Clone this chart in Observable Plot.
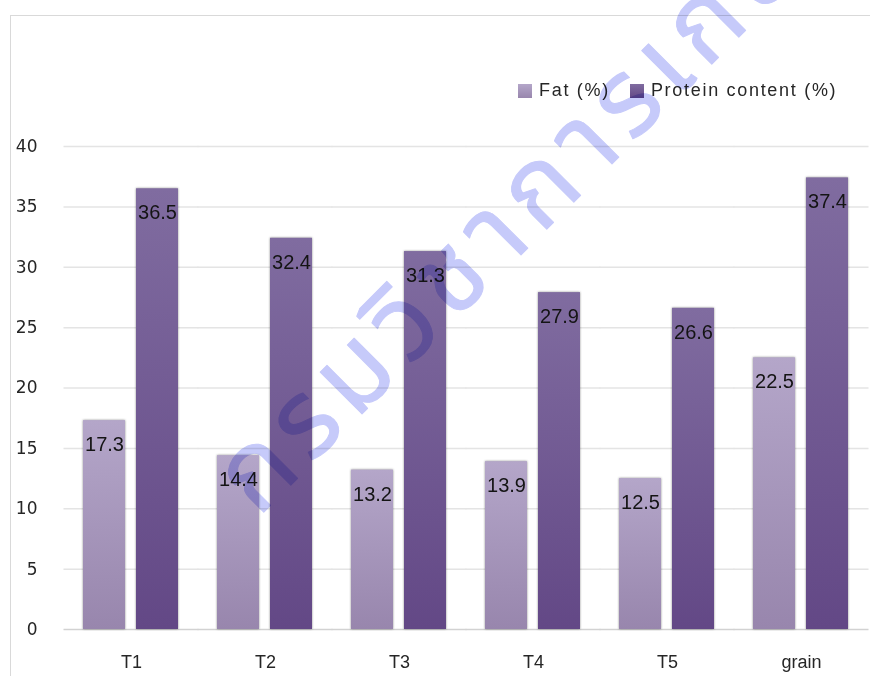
<!DOCTYPE html>
<html>
<head>
<meta charset="utf-8">
<script src="https://cdn.jsdelivr.net/npm/d3@7"></script>
<script src="https://cdn.jsdelivr.net/npm/@observablehq/plot@0.6"></script>
<style>
  html, body { margin: 0; padding: 0; background: #fff; }
  #wrap { position: relative; width: 870px; height: 676px; overflow: hidden;
          font-family: "Liberation Sans", Arial, sans-serif; }
  #frame { position: absolute; left: 10px; top: 15px; width: 900px; height: 720px;
           border: 1px solid #d9d9d9; box-sizing: border-box; }
  #chart { position: absolute; left: 0; top: 0; }
  #chart svg { font-family: "Liberation Sans", Arial, sans-serif; }
  #chart g[aria-label="y-axis tick label"] { font-family: "DejaVu Sans", sans-serif; }
  #chart g[aria-label="bar"] rect { filter: drop-shadow(0 0 1.2px rgba(0,0,0,0.45)); }
  #legend { position: absolute; left: 518px; top: 80px; display: flex; align-items: center;
            font-size: 18px; letter-spacing: 1.7px; color: #262626; white-space: nowrap; }
  #legend .item { display: flex; align-items: center; margin-right: 20px; }
  #legend .key { display: inline-block; width: 14px; height: 14px; margin-right: 7px; }
  #stamp { position: absolute; left: 0; top: 0; mix-blend-mode: multiply; pointer-events: none; }
</style>
</head>
<body>
<div id="wrap">
  <div id="frame"></div>
  <div id="chart"></div>
  <div id="legend"></div>
  <svg id="stamp" width="870" height="676"></svg>
</div>
<script>
// Samples and measured values
const groups = ["T1", "T2", "T3", "T4", "T5", "grain"];
const series = ["Fat (%)", "Protein content (%)"];
const fat = [17.3, 14.4, 13.2, 13.9, 12.5, 22.5];
const protein = [36.5, 32.4, 31.3, 27.9, 26.6, 37.4];
const yTicks = [0, 5, 10, 15, 20, 25, 30, 35, 40];
const stampText = "กรมวิชาการเกษตร";

// Vertical gradients for each series (top colour, bottom colour)
const fills = {
  [series[0]]: {id: "fatFill", top: "#b4a6c9", bottom: "#9886ad"},
  [series[1]]: {id: "proteinFill", top: "#806ca0", bottom: "#634886"}
};

const rows = groups.flatMap((g, i) => [
  {group: g, series: series[0], value: fat[i]},
  {group: g, series: series[1], value: protein[i]}
]);

// Half of the gap between groups, so grid rules join across facets
const gapHalf = -19.5;

const chart = Plot.plot({
  width: 870,
  height: 676,
  marginLeft: 62,
  marginRight: 0,
  marginTop: 146,
  marginBottom: 47,
  fx: {domain: groups, paddingInner: 0.285, paddingOuter: 0.1425, label: null},
  x: {domain: series, paddingInner: 0.2, paddingOuter: 0, axis: null},
  y: {domain: [0, 40]},
  marks: [
    Plot.ruleY(yTicks.filter((t) => t > 0), {stroke: "#e4e4e4", strokeWidth: 1.5, insetLeft: gapHalf, insetRight: gapHalf}),
    Plot.ruleY([0], {stroke: "#d2d2d2", strokeWidth: 1.5, insetLeft: gapHalf, insetRight: gapHalf}),
    ...series.map((s) =>
      Plot.barY(rows.filter((d) => d.series === s), {
        fx: "group", x: "series", y: "value", fill: `url(#${fills[s].id})`
      })
    ),
    Plot.text(rows, {
      fx: "group", x: "series", y: "value",
      text: (d) => d.value.toFixed(1),
      dy: 24, fontSize: 20, fill: "#141414"
    }),
    // the y axis sits on the first group's facet, so the padding reaches back to the page margin
    Plot.axisY({ticks: yTicks, tickSize: 0, tickPadding: 46, fontSize: 17, label: null, fill: "#262626"}),
    Plot.axisFx({anchor: "bottom", tickSize: 0, tickPadding: 26, fontSize: 18, label: null, fill: "#262626"})
  ]
});

// Gradient definitions referenced by the bar fills
const ns = "http://www.w3.org/2000/svg";
const defs = document.createElementNS(ns, "defs");
for (const s of series) {
  const f = fills[s];
  const grad = document.createElementNS(ns, "linearGradient");
  grad.setAttribute("id", f.id);
  grad.setAttribute("x1", "0"); grad.setAttribute("y1", "0");
  grad.setAttribute("x2", "0"); grad.setAttribute("y2", "1");
  [[0, f.top], [1, f.bottom]].forEach(([o, c]) => {
    const stop = document.createElementNS(ns, "stop");
    stop.setAttribute("offset", o);
    stop.setAttribute("stop-color", c);
    grad.appendChild(stop);
  });
  defs.appendChild(grad);
}
chart.insertBefore(defs, chart.firstChild);
document.getElementById("chart").appendChild(chart);

// Legend
const legend = document.getElementById("legend");
for (const s of series) {
  const item = document.createElement("span");
  item.className = "item";
  const key = document.createElement("span");
  key.className = "key";
  key.style.background = `linear-gradient(${fills[s].top}, ${fills[s].bottom})`;
  item.appendChild(key);
  item.appendChild(document.createTextNode(s));
  legend.appendChild(item);
}

// Diagonal stamp across the plot
const stamp = document.getElementById("stamp");
const t = document.createElementNS(ns, "text");
t.setAttribute("x", 258);
t.setAttribute("y", 518);
t.setAttribute("transform", "rotate(-45 258 518)");
t.setAttribute("font-size", 108);
t.setAttribute("letter-spacing", 10);
t.setAttribute("font-family", "'Noto Sans Thai', 'Noto Sans', sans-serif");
t.setAttribute("fill", "#c6cafa");
t.setAttribute("stroke", "#c6cafa");
t.setAttribute("stroke-width", 1);
t.setAttribute("stroke-linejoin", "round");
t.textContent = stampText;
stamp.appendChild(t);
</script>
</body>
</html>
